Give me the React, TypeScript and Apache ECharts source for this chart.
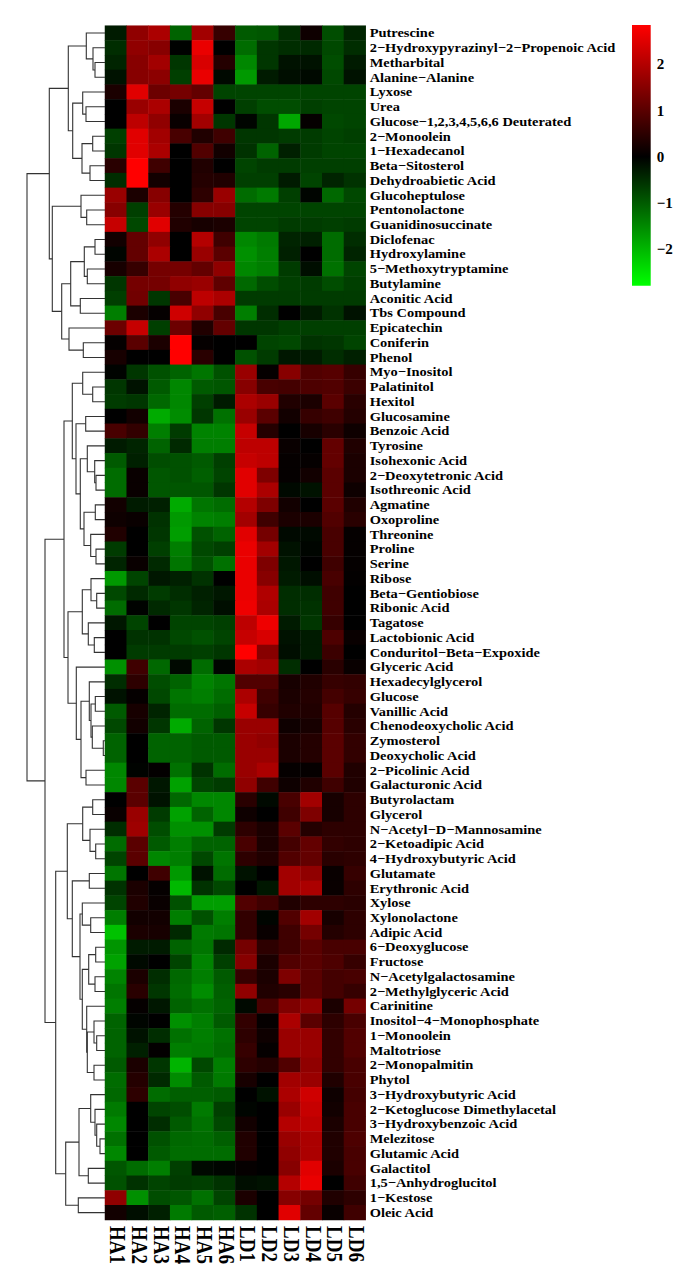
import React, { useEffect, useRef } from "react";
import * as echarts from "echarts";

const samples = ["HA1", "HA2", "HA3", "HA4", "HA5", "HA6", "LD1", "LD2", "LD3", "LD4", "LD5", "LD6"];

const metabolites = [
  "Putrescine", "2−Hydroxypyrazinyl−2−Propenoic Acid", "Metharbital", "Alanine−Alanine", "Lyxose", "Urea",
  "Glucose−1,2,3,4,5,6,6 Deuterated", "2−Monoolein", "1−Hexadecanol", "Beta−Sitosterol", "Dehydroabietic Acid",
  "Glucoheptulose", "Pentonolactone", "Guanidinosuccinate", "Diclofenac", "Hydroxylamine", "5−Methoxytryptamine",
  "Butylamine", "Aconitic Acid", "Tbs Compound", "Epicatechin", "Coniferin", "Phenol", "Myo−Inositol", "Palatinitol",
  "Hexitol", "Glucosamine", "Benzoic Acid", "Tyrosine", "Isohexonic Acid", "2−Deoxytetronic Acid", "Isothreonic Acid",
  "Agmatine", "Oxoproline", "Threonine", "Proline", "Serine", "Ribose", "Beta−Gentiobiose", "Ribonic Acid", "Tagatose",
  "Lactobionic Acid", "Conduritol−Beta−Expoxide", "Glyceric Acid", "Hexadecylglycerol", "Glucose", "Vanillic Acid",
  "Chenodeoxycholic Acid", "Zymosterol", "Deoxycholic Acid", "2−Picolinic Acid", "Galacturonic Acid", "Butyrolactam",
  "Glycerol", "N−Acetyl−D−Mannosamine", "2−Ketoadipic Acid", "4−Hydroxybutyric Acid", "Glutamate", "Erythronic Acid",
  "Xylose", "Xylonolactone", "Adipic Acid", "6−Deoxyglucose", "Fructose", "N−Acetylgalactosamine",
  "2−Methylglyceric Acid", "Carinitine", "Inositol−4−Monophosphate", "1−Monoolein", "Maltotriose", "2−Monopalmitin",
  "Phytol", "3−Hydroxybutyric Acid", "2−Ketoglucose Dimethylacetal", "3−Hydroxybenzoic Acid", "Melezitose",
  "Glutamic Acid", "Galactitol", "1,5−Anhydroglucitol", "1−Kestose", "Oleic Acid",
];

const cellValues = [
  [-.3, 1.6, 1.9, -1.1, 1.8, .6, -1, -.95, -.5, .15, -.85, -.4],
  [-.5, 1.6, 1.5, -.02, 2.6, 0, -1.2, -.6, -.5, -.45, -.8, -.5],
  [-.4, 1.5, 1.8, -.6, 2.4, .4, -1.5, -.6, -.2, -.2, -.85, -.3],
  [-.2, 1.5, 1.55, -.7, 2.6, -.1, -1.7, -.3, -.15, -.1, -.8, -.2],
  [.3, 2.5, 1.2, 1.3, 1.1, -.75, -.75, -.75, -.75, -.75, -.75, -.75],
  [0, 1.7, 1.9, .3, 2.2, 0, -.7, -.85, -.85, -.7, -.75, -.75],
  [0, 2.1, 1.6, .1, 1.8, -.6, -.05, -.6, -1.85, .05, -.8, -.75],
  [-.7, 2.5, 1.8, .8, .35, .7, -.6, -.6, -.65, -.65, -.75, -.7],
  [-.6, 2.5, 1.9, 0, .9, .2, -.55, -1.1, -.35, -.65, -.75, -.75],
  [.45, 2.85, .7, 0, .35, 0, -.75, -.65, -.65, -.7, -.7, -.7],
  [-.5, 2.85, .2, 0, .4, .35, -.7, -.7, -.3, -.75, -.4, -.55],
  [1.7, .3, 1.5, 0, .5, 1.7, -1.2, -1.35, -.7, -.05, -1.15, -.8],
  [1.5, -.7, 1.7, .4, 1.5, 1.5, -.75, -.75, -.75, -.75, -.75, -.75],
  [2.2, -.8, 2.5, .35, .25, .3, -.75, -.75, -.65, -.65, -.7, -.65],
  [.2, 1.1, 1.6, 0, 2, .7, -1.5, -1.35, -.4, -.35, -1.2, -.5],
  [-.05, 1.1, 1.9, 0, 1.7, 1, -1.6, -1.4, -.35, 0, -1.2, -.4],
  [.25, .6, 1.3, 1.3, 1.1, 1.6, -1.5, -1.4, -.65, -.15, -1.25, -.75],
  [-.6, 1.3, 1.3, 1.6, 1.7, 1.05, -1.15, -.85, -.7, -.65, -.85, -.7],
  [-.7, 1.25, -.6, .8, 2.1, 1.9, -.65, -.65, -.65, -.65, -.65, -.65],
  [-1.4, .3, .05, 2.3, 1.6, .8, -1.4, -.5, 0, -.3, -.55, -.2],
  [1.2, 2.2, -.7, 1.2, .35, 1.1, -.6, -.6, -.7, -.7, -.7, -.7],
  [.05, 1, .3, 2.85, .05, 0, 0, -.75, -.8, -.55, -.6, -.75],
  [.25, 0, 0, 2.85, .45, 0, -.9, -.65, -.25, -.3, -.5, -.35],
  [-.03, -.6, -.9, -1.1, -1.3, -.9, 1.7, .05, 1.5, .9, .95, .6],
  [-.6, -.2, -1, -1.5, -1, -.95, 1.5, .8, .75, .85, .9, .65],
  [-.65, -.6, -1.15, -1.5, -.7, -.3, 1.9, 1.7, .35, .3, 1, .45],
  [0, .2, -1.9, -1.55, -.6, -1.25, 1.7, 1, .2, .6, .7, .4],
  [.8, .55, -1.4, -.65, -1.45, -1.45, 2.2, .4, 0, .25, .45, .15],
  [-.3, -.4, -1.1, -.45, -1.4, -1.4, 2.1, 2.1, .1, 0, 1.1, .35],
  [-1, -.35, -.85, -.9, -1, -.7, 2.2, 2.1, .05, .05, 1.1, .3],
  [-1.2, .1, -.95, -.9, -1.05, -.75, 2.5, 1.4, .05, .2, 1, .3],
  [-1.2, .1, -.95, -.95, -.95, -.6, 2.5, 1.9, -.1, -.2, 1, .15],
  [.2, -.3, -.35, -1.9, -1.3, -1.2, 2, 1.4, .2, 0, 1, .35],
  [.15, .1, -.55, -1.7, -1.45, -1.4, 1.8, .7, .3, .3, .9, .45],
  [.35, 0, -.6, -1.75, -.9, -1.1, 2.5, 1.3, -.1, -.1, .8, .05],
  [-.65, 0, -.7, -1.4, -.8, -.7, 2.6, 1.8, -.2, -.05, .8, .05],
  [-.4, .1, -.45, -1.3, -.9, -1.25, 2.6, 1.4, -.25, 0, .7, .05],
  [-1.7, -.75, -.25, -.35, -.55, 0, 2.6, 1.5, -.3, -.15, .8, .03],
  [-.8, -.45, -.65, -.5, -.35, -.25, 2.6, 1.95, -.5, -.5, .7, 0],
  [-1.2, -.03, -.45, -.6, -.4, -.15, 2.65, 1.9, -.5, -.55, .7, 0],
  [-.25, -.75, 0, -.75, -.75, -.7, 2.1, 2.65, -.3, -.6, .6, 0],
  [0, -.55, -.55, -.8, -.9, -.75, 2.2, 2.4, -.2, -.3, .85, .1],
  [0, -.65, -.65, -.65, -.7, -.6, 2.85, 1.5, -.15, -.3, .65, 0],
  [-1.6, .7, -1.15, -.1, -1.2, -.05, 1.9, 1.8, -.5, 0, .45, .1],
  [-.5, .5, -.85, -1.1, -1.45, -1.3, .9, .9, .25, .35, .6, .55],
  [-.2, .05, -.8, -1.3, -1.4, -1.2, 1.9, .7, .3, .4, .75, .6],
  [-1, .25, -.4, -1.2, -1.2, -1.05, 2.2, .6, .35, .35, .95, .4],
  [-.8, .2, -.6, -1.9, -1.1, -.6, 1.7, 1.7, .15, .25, .95, .45],
  [-1.1, 0, -1.1, -1.1, -1, -1, 1.7, 1.6, .3, .4, 1, .55],
  [-1.1, 0, -1.1, -1.1, -1, -1, 1.7, 1.7, .3, .4, 1, .55],
  [-1.5, -.03, .03, -1.25, -.55, -1.2, 1.7, 1.9, .05, .05, 1, .35],
  [-1.5, 1, -.25, -1.8, -.75, -.65, 1.6, .7, .15, .35, .7, .35],
  [0, 1, -.2, -1.15, -1.5, -1.5, .45, -.1, .8, 1.8, .25, .5],
  [.1, 1.7, -.65, -1.8, -1.1, -1.5, .15, 0, .7, 1.4, .25, .5],
  [-.5, 1.75, -.85, -1.6, -1.6, -.65, .5, .3, 1, .4, .5, .5],
  [-1.2, 1, -1, -1.4, -1.1, -1.1, .8, .3, .75, 1.1, .55, .5],
  [-.75, 1, -1.5, -1.4, -.8, -1.3, .5, .35, .9, 1.1, .45, .5],
  [-1.3, 0, .7, -1.7, -.2, -1.2, -.2, 0, 1.8, 1.6, .1, .6],
  [-.55, .3, .05, -2.05, -.55, -.8, 0, -.25, 1.8, 1.9, .1, .5],
  [-.75, .35, .1, -.9, -1.75, -1.75, .9, .7, .35, .5, .5, .45],
  [-1.4, .2, .2, -1.4, -.9, -1.4, .55, -.05, .9, 1.8, .25, .5],
  [-2.15, .3, .25, -.45, -1.35, -1.3, .55, .1, .7, 1.3, .4, .5],
  [-1.65, -.3, -.3, -1.1, -1.3, -.45, 1.3, .5, .7, 1, .8, .8],
  [-1.8, -.1, 0, -.75, -1.45, -.7, 1.5, .3, .9, 1, .85, .6],
  [-1.45, .3, -.5, -1.15, -1.4, -1, .6, .3, 1.4, 1, .75, .8],
  [-1.3, .45, -.6, -1.2, -1.55, -1.05, 1.6, .35, .45, 1, .75, .6],
  [-1.4, .05, -.25, -1.1, -1.25, -1.1, -.1, .8, 1.4, 1.6, .3, 1.3],
  [-1.1, -.05, 0, -1.6, -1.4, -1, .55, .05, 1.9, 1, .5, .8],
  [-1.1, -.2, -.5, -1.25, -1.4, -1.25, .5, .15, 1.7, 1.7, .55, .9],
  [-1.1, -.35, .03, -1.4, -1.35, -1.2, .6, .05, 1.7, 1.7, .55, .9],
  [-1, .3, -.6, -2, -.8, -1.4, .5, .4, .9, 1.6, .55, .8],
  [-1.2, .4, -.45, -1.55, -1, -1.35, .25, 0, 1.8, 1.7, .35, .8],
  [-1.15, .5, -1.2, -1.05, -1.05, -1, 0, -.2, 1.9, 2.3, .15, .75],
  [-1.35, 0, -.75, -.85, -1.35, -.7, -.05, 0, 1.7, 2.2, .2, .8],
  [-1.5, 0, -.5, -1, -1.25, -.8, .2, 0, 2, 2.1, .3, .8],
  [-1.25, 0, -.9, -1.15, -1.2, -1.05, .35, 0, 1.7, 1.9, .35, .85],
  [-1.5, 0, -1, -1.2, -1.2, -1.2, .35, 0, 1.6, 1.9, .35, .8],
  [-.95, -1.2, -1.4, -.7, -.1, -.05, .05, 0, 1.5, 2.5, .3, .8],
  [-.9, -.55, -.75, -.65, -.7, -.55, -.15, -.2, 2, 2.6, 0, .7],
  [1.6, -1.6, -.85, -.95, -1.25, -.75, .3, 0, 1.5, 1.3, .35, .5],
  [.2, -.15, -.35, -1.35, -1, -1.05, -.55, 0, 2.5, 1.1, .1, .7],
];

const colorbarTicks = [-2, -1, 0, 1, 2];
const colorbarRange = [-2.79, 2.85];

// Row dendrogram: [merge height, left child, right child]; a number is a 1-based row.
type Tree = number | [number, Tree, Tree];
const upperClade: Tree = [55.7,
  [36.7,
    [18.7, 1, [12, 2, [10, 3, 4]]],
    [32.3, [22.3, 5, [19, 6, 7]], [23, [12.3, 8, 9], [15, 10, 11]]]],
  [52.7,
    [24, 12, [18.3, 13, 14]],
    [43.3,
      [34.3, [20.7, [10, 15, 16], [17.7, 17, 18]], [24.7, 19, 20]],
      [36, 21, [21.7, 22, 23]]]]];
const middleClade: Tree = [41,
  [32.7,
    [22.3, 24, [12.3, 25, 26]],
    [29,
      [19.3, 27, 28],
      [24.7,
        [17.7, 29, [10.3, 30, [9, 31, 32]]],
        [21, [9.7, 33, 34], [14.3, 35, [9, 36, 37]]]]]],
  [37,
    [22.7, [14, 38, [8.3, 39, 40]], [16.7, 41, [10.7, 42, 43]]],
    [28.7, 44,
      [24,
        [15.7, 45, [14, [9.7, 46, 47], [12.7, 48, [1.7, 49, 50]]]],
        [19, 51, 52]]]]];
const lowerClade: Tree = [49.3,
  [37.7,
    [22.3, [12.3, 53, 54], [15, 55, [9.3, 56, 57]]],
    [32.7,
      [15.7, 58, 59],
      [25,
        [22.7, 60, [14.3, 61, 62]],
        [22.7,
          [16.3, [9.3, 63, 64], [10, 65, 66]],
          [18.3, 67, [17.7, [11, 68, [8.3, 69, 70]], [11, 71, 72]]]]]]],
  [39.3,
    [26, [14.3, 73, [10, 74, [8.3, 75, [5, 76, 77]]]], [16.7, 78, 79]],
    [26.7, 80, 81]]];
const rowTree: Tree = [78, upperClade, [60, middleClade, lowerClade]];

function collectMerges(node: Tree, out: number[][]): [number, number] {
  if (typeof node === "number") return [0, node - 0.5];
  const [h, a, b] = node;
  const [ha, ya] = collectMerges(a, out);
  const [hb, yb] = collectMerges(b, out);
  out.push([ha, ya, h, yb, hb]);
  return [h, (ya + yb) / 2];
}

const SERIF = "'Liberation Serif', 'Times New Roman', serif";

export default function App() {
  const ref = useRef<HTMLDivElement>(null);
  useEffect(() => {
    const chart = echarts.init(ref.current!, null, { renderer: "svg" });
    const merges: number[][] = [];
    collectMerges(rowTree, merges);
    const heat: number[][] = [];
    cellValues.forEach((row, r) => row.forEach((v, c) => heat.push([c, r, v])));
    chart.setOption({
      animation: false,
      backgroundColor: "#ffffff",
      grid: [
        { left: 105, top: 25.7, width: 260.7, height: 1194.3 },
        { left: 27, top: 25.7, width: 78, height: 1194.3 },
        { left: 632, top: 25, width: 18.7, height: 260.7 },
      ],
      xAxis: [
        {
          type: "category", gridIndex: 0, data: samples, position: "bottom",
          axisLine: { show: false }, axisTick: { show: false }, splitLine: { show: false },
          axisLabel: { interval: 0, rotate: -90, margin: 6, fontFamily: SERIF, fontSize: 19, fontWeight: "bold", color: "#000" },
        },
        { type: "value", gridIndex: 1, min: 0, max: 78, inverse: true, show: false },
        { type: "value", gridIndex: 2, min: 0, max: 1, show: false },
      ],
      yAxis: [
        {
          type: "category", gridIndex: 0, data: metabolites, inverse: true, position: "right",
          axisLine: { show: false }, axisTick: { show: false }, splitLine: { show: false },
          axisLabel: { interval: 0, margin: 4, fontFamily: SERIF, fontSize: 13, fontWeight: "bold", color: "#000" },
        },
        { type: "value", gridIndex: 1, min: 0, max: 81, inverse: true, show: false },
        {
          type: "value", gridIndex: 2, min: colorbarRange[0], max: colorbarRange[1], position: "right",
          axisLine: { show: false }, axisTick: { show: false }, splitLine: { show: false },
          axisLabel: {
            customValues: colorbarTicks, margin: 6, fontFamily: SERIF, fontSize: 15, fontWeight: "bold", color: "#000",
            formatter: (v: number) => String(v).replace("-", "−"),
          },
        },
      ],
      visualMap: {
        type: "continuous", seriesIndex: 0, min: -2.83, max: 2.83, show: false,
        inRange: { color: ["#00ff00", "#000000", "#ff0000"] },
      },
      series: [
        {
          type: "heatmap", xAxisIndex: 0, yAxisIndex: 0, data: heat,
          itemStyle: { borderWidth: 0 }, emphasis: { disabled: true },
        },
        {
          type: "custom", xAxisIndex: 1, yAxisIndex: 1, data: merges, clip: false, silent: true,
          encode: { x: [0, 2, 4], y: [1, 3] },
          renderItem: (_: any, api: any) => {
            const p = (h: number, y: number) => api.coord([h, y]);
            const ha = api.value(0), ya = api.value(1), h = api.value(2), yb = api.value(3), hb = api.value(4);
            return {
              type: "polyline",
              shape: { points: [p(ha, ya), p(h, ya), p(h, yb), p(hb, yb)] },
              style: { stroke: "#333333", lineWidth: 1.1, fill: "none" },
            };
          },
        },
        {
          type: "custom", xAxisIndex: 2, yAxisIndex: 2, clip: false, silent: true,
          data: [[0, colorbarRange[0], 1, colorbarRange[1]]],
          encode: { x: [0, 2], y: [1, 3] },
          renderItem: (_: any, api: any) => {
            const a = api.coord([api.value(0), api.value(3)]);
            const b = api.coord([api.value(2), api.value(1)]);
            const lo = colorbarRange[0], hi = colorbarRange[1];
            return {
              type: "rect",
              shape: { x: a[0], y: a[1], width: b[0] - a[0], height: b[1] - a[1] },
              style: {
                fill: new echarts.graphic.LinearGradient(0, 0, 0, 1, [
                  { offset: 0, color: "#ff0000" },
                  { offset: hi / (hi - lo), color: "#000000" },
                  { offset: 1, color: "#00ff00" },
                ]),
              },
            };
          },
        },
      ],
    });
    // The reference picture is stretched sideways: widen the axis texts the same way.
    ref.current!.querySelectorAll("text").forEach((t) => {
      const s = t.textContent || "";
      const old = t.getAttribute("transform") || "";
      if (metabolites.includes(s)) t.setAttribute("transform", old + " scale(1.11 1)");
      else if (samples.includes(s)) t.setAttribute("transform", old + " translate(0 -2) scale(1 1.25)");
    });
    return () => chart.dispose();
  }, []);
  return <div ref={ref} style={{ position: "absolute", left: 0, top: 0, width: 692, height: 1286 }} />;
}
